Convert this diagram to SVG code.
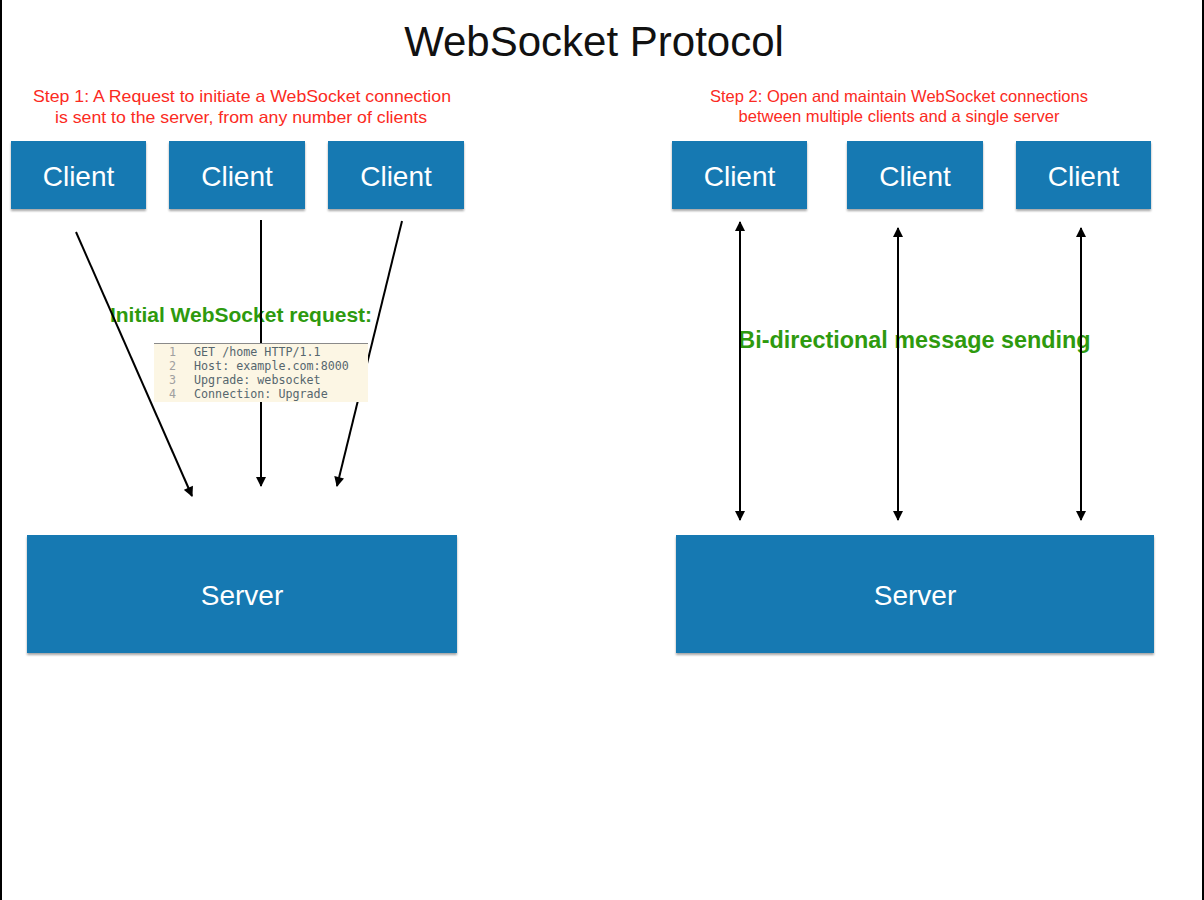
<svg xmlns="http://www.w3.org/2000/svg" width="1204" height="900" viewBox="0 0 1204 900">
<defs>
<style>
.box{fill:#1879b2;filter:url(#sh)}
.lbl{fill:#ffffff;font-family:"Liberation Sans",Arial,sans-serif;font-size:28px;text-anchor:middle}
.red{fill:#fb2a22;font-family:"Liberation Sans",Arial,sans-serif;font-size:16.5px;text-anchor:middle}
.green{fill:#2e9a0e;font-family:"Liberation Sans",Arial,sans-serif;font-weight:bold;text-anchor:middle}
.ln{fill:#a0a0a0}
.cd{fill:#56666e}
.code{font-family:"DejaVu Sans Mono","Liberation Mono",monospace;font-size:11.7px}
.arr{stroke:#000;stroke-width:2;fill:none}
</style>
<filter id="sh" x="-5%" y="-10%" width="110%" height="130%">
<feDropShadow dx="0" dy="2" stdDeviation="1.2" flood-color="#000" flood-opacity="0.35"/>
</filter>
<marker id="ah" viewBox="0 0 10 10" refX="9" refY="5" markerWidth="5.5" markerHeight="5" orient="auto-start-reverse" markerUnits="strokeWidth">
<path d="M0,0 L10,5 L0,10 z" fill="#000"/>
</marker>
</defs>
<rect x="0" y="0" width="1204" height="900" fill="#fff"/>
<line x1="1" y1="0" x2="1" y2="900" stroke="#000" stroke-width="2"/>
<line x1="1203" y1="0" x2="1203" y2="900" stroke="#000" stroke-width="2"/>

<text x="594" y="56" font-family="'Liberation Sans',Arial,sans-serif" font-size="42" text-anchor="middle" fill="#111">WebSocket Protocol</text>

<text class="red" x="242" y="102" textLength="418" lengthAdjust="spacingAndGlyphs">Step 1: A Request to initiate a WebSocket connection</text>
<text class="red" x="241" y="123" textLength="372" lengthAdjust="spacingAndGlyphs">is sent to the server, from any number of clients</text>
<text class="red" x="899" y="102" textLength="378" lengthAdjust="spacingAndGlyphs">Step 2: Open and maintain WebSocket connections</text>
<text class="red" x="899" y="122" textLength="321" lengthAdjust="spacingAndGlyphs">between multiple clients and a single server</text>

<g id="client1"><rect class="box" x="11" y="141" width="135" height="68"/><text class="lbl" x="78.5" y="186">Client</text></g>
<g id="client2"><rect class="box" x="169" y="141" width="136" height="68"/><text class="lbl" x="237" y="186">Client</text></g>
<g id="client3"><rect class="box" x="328" y="141" width="136" height="68"/><text class="lbl" x="396" y="186">Client</text></g>
<g id="client4"><rect class="box" x="672" y="141" width="135" height="68"/><text class="lbl" x="739.5" y="186">Client</text></g>
<g id="client5"><rect class="box" x="847" y="141" width="136" height="68"/><text class="lbl" x="915" y="186">Client</text></g>
<g id="client6"><rect class="box" x="1016" y="141" width="135" height="68"/><text class="lbl" x="1083.5" y="186">Client</text></g>

<g id="server1"><rect class="box" x="27" y="535" width="430" height="118"/><text class="lbl" x="242" y="605">Server</text></g>
<g id="server2"><rect class="box" x="676" y="535" width="478" height="118"/><text class="lbl" x="915" y="605">Server</text></g>

<text class="green" x="241" y="322" font-size="21">Initial WebSocket request:</text>
<text class="green" x="914.5" y="348" font-size="23.4">Bi-directional message sending</text>

<g id="connectors">
<line class="arr" x1="76" y1="232" x2="192" y2="496" marker-end="url(#ah)"/>
<line class="arr" x1="261" y1="220" x2="261" y2="486" marker-end="url(#ah)"/>
<line class="arr" x1="402" y1="221" x2="337" y2="486" marker-end="url(#ah)"/>
<line class="arr" x1="740" y1="222" x2="740" y2="520" marker-start="url(#ah)" marker-end="url(#ah)"/>
<line class="arr" x1="898" y1="228" x2="898" y2="520" marker-start="url(#ah)" marker-end="url(#ah)"/>
<line class="arr" x1="1081" y1="228" x2="1081" y2="520" marker-start="url(#ah)" marker-end="url(#ah)"/>
</g>

<g id="code">
<rect x="154" y="343" width="214" height="59" fill="#fcf6e4"/>
<line x1="154" y1="343.5" x2="368" y2="343.5" stroke="#8a8a8a" stroke-width="1"/>
<g class="code">
<text class="ln" x="169" y="356">1</text><text class="cd" x="194" y="356">GET /home HTTP/1.1</text>
<text class="ln" x="169" y="370">2</text><text class="cd" x="194" y="370">Host: example.com:8000</text>
<text class="ln" x="169" y="384">3</text><text class="cd" x="194" y="384">Upgrade: websocket</text>
<text class="ln" x="169" y="398">4</text><text class="cd" x="194" y="398">Connection: Upgrade</text>
</g>
</g>
</svg>
